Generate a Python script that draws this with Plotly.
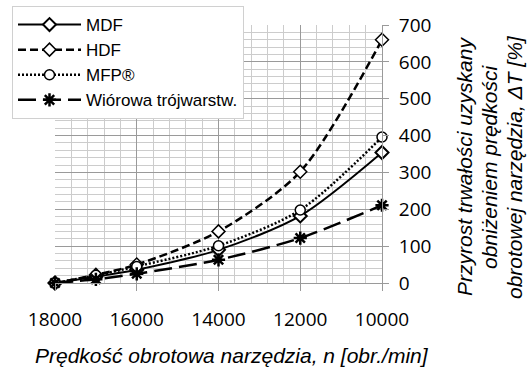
import plotly.graph_objects as go

# Rotational speed of the tool [rpm] and tool-life increase [%] per board type
speed = [18000, 17000, 16000, 14000, 12000, 10000]
mdf = [0, 17, 36, 90, 182, 354]
hdf = [0, 22, 50, 140, 302, 660]
mfp = [0, 21, 45, 101, 198, 396]
wiorowa = [0, 10, 25, 63, 122, 211]

series_names = ["MDF", "HDF", "MFP®", "Wiórowa trójwarstw."]
y_title_lines = ["Przyrost trwałości uzyskany", "obniżeniem prędkości", "obrotowej narzędzia, ΔT [%]"]
x_title = "Prędkość obrotowa narzędzia, n [obr./min]"

fig = go.Figure()

styles = [
    dict(dash="solid", width=2, symbol="diamond", size=10, fill="white", mlw=2),
    dict(dash="8px,4px", width=2.5, symbol="diamond", size=10, fill="white", mlw=1.5),
    dict(dash="2px,2px", width=2.5, symbol="circle", size=10, fill="white", mlw=1.5),
    dict(dash="18px,7px", width=2.5, symbol="asterisk-open", size=11, fill="black", mlw=2.5),
]

for name, vals, st in zip(series_names, [mdf, hdf, mfp, wiorowa], styles):
    fig.add_trace(go.Scatter(
        x=speed, y=vals, name=name, mode="lines+markers", cliponaxis=False,
        line=dict(color="black", width=st["width"], dash=st["dash"], shape="spline", smoothing=0.8),
        marker=dict(symbol=st["symbol"], size=st["size"], color=st["fill"],
                    line=dict(color="black", width=st["mlw"])),
    ))

L, R, T, B = 55, 145, 25, 90
W, H = 527, 373
pw, ph = W - L - R, H - T - B

fig.update_layout(
    width=W, height=H,
    margin=dict(l=L, r=R, t=T, b=B, autoexpand=False),
    paper_bgcolor="white", plot_bgcolor="white",
    font=dict(family="Liberation Sans, Arial, sans-serif", color="black"),
    legend=dict(
        x=(12 - L) / pw, y=(H - B - 6) / ph, xanchor="left", yanchor="top",
        bgcolor="white", bordercolor="#d0d0d0", borderwidth=1,
        font=dict(size=17, family="Liberation Sans, Arial, sans-serif"),
        itemwidth=63, tracegroupgap=0,
    ),
    xaxis=dict(
        range=[18000, 10000], dtick=2000, tick0=10000, tickformat="d",
        showgrid=True, gridcolor="#9a9a9a", gridwidth=1,
        minor=dict(dtick=400, showgrid=True, gridcolor="#cccccc", gridwidth=1),
        showline=True, linecolor="#9a9a9a", linewidth=1,
        ticks="outside", ticklen=7, tickcolor="#9a9a9a",
        tickfont=dict(size=19, family="Open Sans, sans-serif"),
        ticklabelstandoff=12,
        zeroline=False,
    ),
    yaxis=dict(
        range=[0, 700], dtick=100, side="right",
        showgrid=True, gridcolor="#9a9a9a", gridwidth=1,
        minor=dict(dtick=20, showgrid=True, gridcolor="#cccccc", gridwidth=1),
        showline=True, linecolor="#9a9a9a", linewidth=1,
        ticks="outside", ticklen=6, tickcolor="#9a9a9a",
        tickfont=dict(size=19, family="Open Sans, sans-serif"),
        ticklabelstandoff=6,
        zeroline=False,
    ),
)

# Three-line rotated title on the right-hand side
for px, line in zip([464, 489, 514], y_title_lines):
    fig.add_annotation(
        text=f"<i>{line}</i>", xref="paper", yref="paper",
        x=(px - L) / pw, y=(H - B - 167) / ph,
        xanchor="center", yanchor="middle", textangle=-90, showarrow=False,
        font=dict(size=21, family="Liberation Sans, Arial, sans-serif", color="black"),
    )

fig.add_annotation(
    text=f"<i>{x_title}</i>", xref="paper", yref="paper",
    x=(232 - L) / pw, y=(H - B - 355) / ph,
    xanchor="center", yanchor="middle", showarrow=False,
    font=dict(size=21, family="Liberation Sans, Arial, sans-serif", color="black"),
)

fig.write_html("out.html")
